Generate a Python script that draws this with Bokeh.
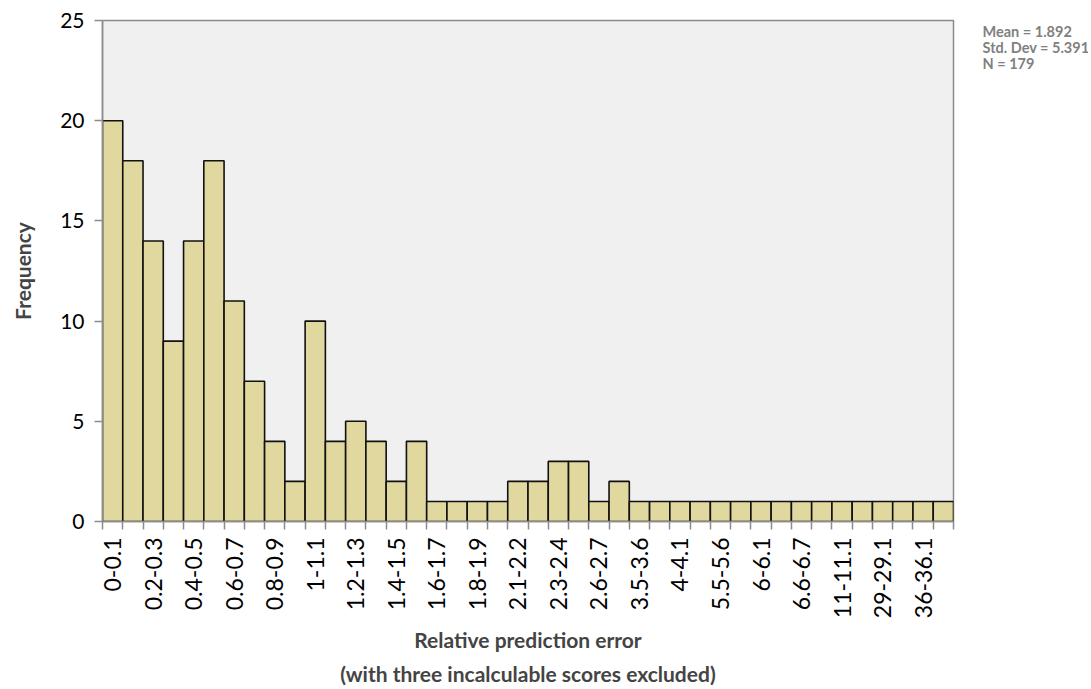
import math
from bokeh.plotting import figure
from bokeh.layouts import row
from bokeh.models import Range1d, FixedTicker, ColumnDataSource
from bokeh.core.properties import value
from bokeh.embed import file_html
from bokeh.resources import INLINE

categories = ["0-0.1", "0.1-0.2", "0.2-0.3", "0.3-0.4", "0.4-0.5", "0.5-0.6",
              "0.6-0.7", "0.7-0.8", "0.8-0.9", "0.9-1", "1-1.1", "1.1-1.2",
              "1.2-1.3", "1.3-1.4", "1.4-1.5", "1.5-1.6", "1.6-1.7", "1.7-1.8",
              "1.8-1.9", "1.9-2", "2.1-2.2", "2.2-2.3", "2.3-2.4", "2.4-2.5",
              "2.6-2.7", "2.9-3", "3.5-3.6", "3.8-3.9", "4-4.1", "4.9-5",
              "5.5-5.6", "5.8-5.9", "6-6.1", "6.2-6.3", "6.6-6.7", "9-9.1",
              "11-11.1", "16-16.1", "29-29.1", "32-32.1", "36-36.1", "40-40.1"]
frequency = [20, 18, 14, 9, 14, 18, 11, 7, 4, 2, 10, 4, 5, 4, 2, 4, 1, 1, 1, 1,
             2, 2, 3, 3, 1, 2, 1, 1, 1, 1, 1, 1, 1, 1, 1, 1, 1, 1, 1, 1, 1, 1]
y_ticks = [0, 5, 10, 15, 20, 25]
stats_lines = ["Mean = 1.892", "Std. Dev = 5.391", "N = 179"]

FONT = "Lato"
H = 688
TOP, BOTTOM = 20, 523
idx = list(range(len(categories)))
src = ColumnDataSource(dict(x=idx, top=frequency, cat=categories))

p = figure(width=960, height=H, output_backend="svg", toolbar_location=None,
           x_range=Range1d(-0.5, len(categories) - 0.5), y_range=Range1d(0, 25),
           min_border_left=102, min_border_right=7, min_border_top=TOP,
           min_border_bottom=H - BOTTOM)

p.background_fill_color = "#F0F0F0"
p.border_fill_color = "white"
p.outline_line_color = "#8C8C8C"
p.outline_line_width = 1.5
p.xgrid.visible = False
p.ygrid.visible = False

p.vbar(x="x", top="top", width=1.0, bottom=0, source=src,
       fill_color="#E0D89E", line_color="#111111", line_width=1.6)

# x axis
xa = p.xaxis[0]
xa.ticker = FixedTicker(ticks=idx[::2],
                        minor_ticks=[i - 0.5 for i in range(len(categories) + 1)])
xa.major_label_overrides = {i: categories[i] for i in idx[::2]}
xa.major_label_orientation = math.pi / 2
xa.major_tick_line_color = None
xa.major_tick_out = 8
xa.major_tick_in = 0
xa.minor_tick_line_color = "#8C8C8C"
xa.minor_tick_line_width = 1.5
xa.minor_tick_out = 8
xa.minor_tick_in = 0
xa.axis_line_color = "#8C8C8C"
xa.axis_line_width = 1.5
xa.major_label_text_font = FONT
xa.major_label_text_font_size = "23px"
xa.major_label_text_color = "black"
xa.major_label_standoff = 8
xa.axis_label = "Relative prediction error\n(with three incalculable scores excluded)"
xa.axis_label_text_font = FONT
xa.axis_label_text_font_style = "bold"
xa.axis_label_text_font_size = "21px"
xa.axis_label_text_line_height = 1.35
xa.axis_label_standoff = 6

# y axis
ya = p.yaxis[0]
ya.ticker = FixedTicker(ticks=y_ticks)
ya.major_tick_line_color = "#8C8C8C"
ya.major_tick_line_width = 1.5
ya.major_tick_out = 8
ya.major_tick_in = 0
ya.minor_tick_line_color = None
ya.axis_line_color = "#8C8C8C"
ya.axis_line_width = 1.5
ya.major_label_text_font = FONT
ya.major_label_text_font_size = "21px"
ya.major_label_text_color = "black"
ya.major_label_standoff = 10
ya.axis_label = "Frequency"
ya.axis_label_text_font = FONT
ya.axis_label_text_font_style = "bold"
ya.axis_label_text_font_size = "21px"
ya.axis_label_standoff = 22

# statistics box to the right of the chart (frame aligned with main frame)
SW = 128
FH = BOTTOM - TOP
s = figure(width=SW, height=H, output_backend="svg", toolbar_location=None,
           x_range=Range1d(0, SW), y_range=Range1d(0, FH),
           min_border_left=0, min_border_right=0, min_border_top=TOP,
           min_border_bottom=H - BOTTOM, outline_line_color=None)
s.axis.visible = False
s.grid.visible = False
s.background_fill_color = "white"
s.border_fill_color = "white"
s.text(x=[22] * len(stats_lines),
       y=[FH - 11 - 16 * k for k in range(len(stats_lines))],
       text=stats_lines, text_font=value(FONT), text_font_style="bold",
       text_font_size="14.5px", text_color="#808080",
       text_baseline="middle", text_align="left")

layout = row(p, s)
open("out.html", "w").write(file_html(layout, INLINE))
